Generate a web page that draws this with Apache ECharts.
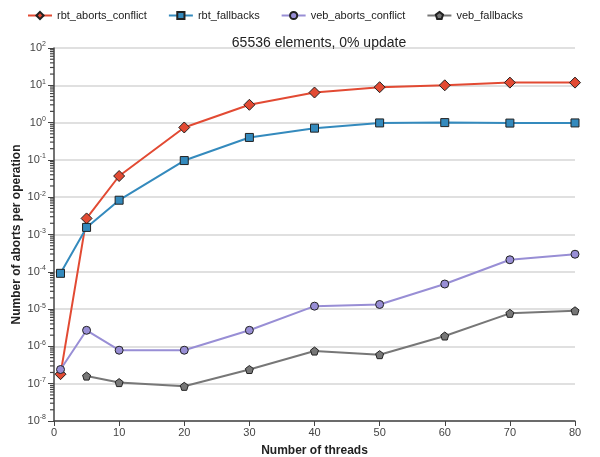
<!DOCTYPE html>
<html>
<head>
<meta charset="utf-8">
<script src="https://cdn.jsdelivr.net/npm/echarts@6/dist/echarts.min.js"></script>
<style>
  html, body { margin: 0; padding: 0; background: #fff; }
  #chart { width: 600px; height: 457px; }
</style>
</head>
<body>
<div id="chart"></div>
<script>
// values (log scale)
const threads = [1, 5, 10, 20, 30, 40, 50, 60, 70, 80];
const rbtAbortsConflict = [1.8e-7, 2.7e-3, 0.037, 0.74, 3.0, 6.4, 8.9, 10, 11.8, 11.8];
const rbtFallbacks = [9.1e-5, 1.55e-3, 8.3e-3, 0.096, 0.40, 0.71, 0.98, 1.0, 0.97, 0.98];
const vebAbortsConflict = [2.4e-7, 2.7e-6, 7.9e-7, 7.9e-7, 2.7e-6, 1.2e-5, 1.33e-5, 4.7e-5, 2.1e-4, 2.96e-4];
const vebFallbacks = [null, 1.6e-7, 1.07e-7, 8.5e-8, 2.4e-7, 7.5e-7, 6.0e-7, 1.9e-6, 7.7e-6, 9.0e-6];

const pentagon = 'path://M0,-10 L9.5,-3.1 L5.9,8.1 L-5.9,8.1 L-9.5,-3.1 Z';

// minor tick values 2..9 x 10^d for the log axis
const minorTicks = [];
for (let d = -8; d < 2; d++) {
    for (let k = 2; k <= 9; k++) minorTicks.push([0, k * Math.pow(10, d)]);
}

function pairs(vals) {
    return threads.map((t, i) => [t, vals[i]]);
}

function mkSeries(name, vals, color, symbol, size) {
    return {
        name: name,
        type: 'line',
        data: pairs(vals),
        symbol: symbol,
        symbolSize: size,
        showAllSymbol: true,
        connectNulls: false,
        lineStyle: { color: color, width: 2 },
        itemStyle: { color: color, borderColor: '#222', borderWidth: 1 },
        emphasis: { disabled: true },
        z: 3
    };
}

const chart = echarts.init(document.getElementById('chart'));
chart.setOption({
    animation: false,
    textStyle: { fontFamily: 'Liberation Sans, Arial, sans-serif' },
    title: {
        text: '65536 elements, 0% update',
        left: 314, top: 31, textAlign: 'center',
        textStyle: { fontSize: 14, fontWeight: 'normal', color: '#222' }
    },
    legend: {
        top: 5, left: 22,
        itemWidth: 24, itemHeight: 9, itemGap: 21,
        textStyle: { fontSize: 11, color: '#222' },
        data: ['rbt_aborts_conflict', 'rbt_fallbacks', 'veb_aborts_conflict', 'veb_fallbacks']
    },
    grid: { left: 54, right: 25, top: 48, bottom: 36, outerBoundsMode: 'none' },
    xAxis: {
        type: 'value', min: 0, max: 80, interval: 10,
        name: 'Number of threads', nameLocation: 'middle', nameGap: 24,
        nameTextStyle: { fontSize: 12, fontWeight: 'bold', color: '#222' },
        axisLine: { lineStyle: { color: '#444', width: 1.5 } },
        axisTick: { length: 5, lineStyle: { color: '#444' } },
        axisLabel: { fontSize: 11, color: '#444', margin: 6 },
        splitLine: { show: false }
    },
    yAxis: {
        type: 'log', logBase: 10, min: 1e-8, max: 100, interval: 1, splitNumber: 10,
        name: 'Number of aborts per operation', nameLocation: 'middle', nameGap: 31,
        nameMoveOverlap: false,
        nameTextStyle: { fontSize: 12, fontWeight: 'bold', color: '#222' },
        axisLine: { show: true, lineStyle: { color: '#444', width: 1.5 } },
        axisTick: { show: true, length: 6, lineStyle: { color: '#444' } },
        axisLabel: {
            color: '#444', margin: 8,
            formatter: function (v) {
                const e = Math.round(Math.log10(v));
                return '{b|10}{s|' + e + '}';
            },
            rich: {
                b: { fontSize: 11, color: '#444' },
                s: { fontSize: 7, color: '#444', padding: [0, 0, 7, 0] }
            }
        },
        splitLine: { show: true, lineStyle: { color: '#d6d6d6', width: 1.5 } }
    },
    series: [
        {
            type: 'custom',
            silent: true,
            clip: false,
            data: minorTicks,
            renderItem: function (params, api) {
                const p = api.coord([api.value(0), api.value(1)]);
                return {
                    type: 'line',
                    shape: { x1: p[0] - 4, y1: p[1], x2: p[0], y2: p[1] },
                    style: { stroke: '#444', lineWidth: 1.2 }
                };
            },
            z: 5
        },
        mkSeries('rbt_aborts_conflict', rbtAbortsConflict, '#E24A33', 'diamond', 11),
        mkSeries('rbt_fallbacks', rbtFallbacks, '#348ABD', 'rect', 8),
        mkSeries('veb_aborts_conflict', vebAbortsConflict, '#988ED5', 'circle', 8),
        mkSeries('veb_fallbacks', vebFallbacks, '#777777', pentagon, 8)
    ]
});
</script>
</body>
</html>
